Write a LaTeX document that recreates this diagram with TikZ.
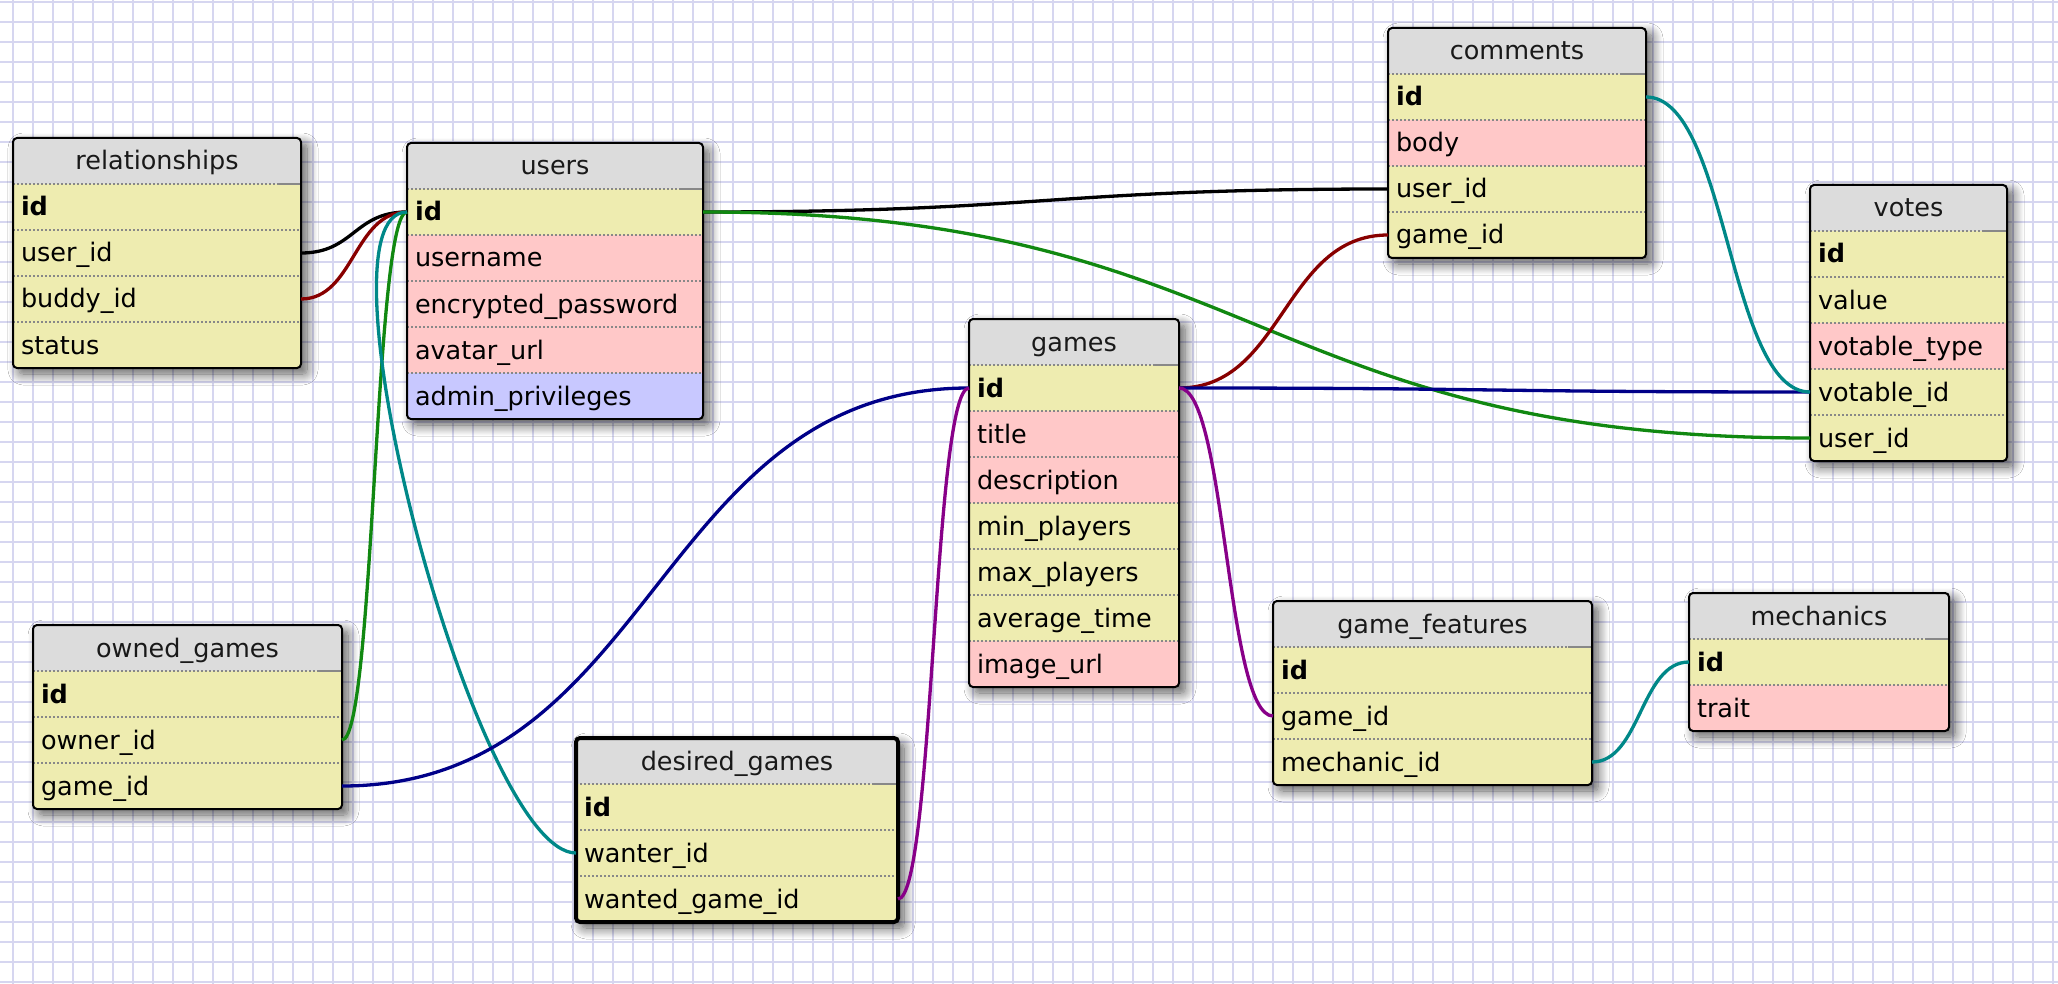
\documentclass[tikz,border=0pt]{standalone}
\usepackage{fontspec}
\setmainfont{DejaVu Sans}
\usetikzlibrary{calc,shadows.blur}

\definecolor{gridc}{RGB}{214,214,240}
\definecolor{headc}{RGB}{220,220,220}
\definecolor{yellowc}{RGB}{238,236,176}
\definecolor{pinkc}{RGB}{255,200,200}
\definecolor{bluec}{RGB}{200,200,255}
\definecolor{sepc}{RGB}{136,136,136}
\definecolor{fkblack}{RGB}{0,0,0}
\definecolor{fkred}{RGB}{136,0,0}
\definecolor{fkgreen}{RGB}{17,136,17}
\definecolor{fkteal}{RGB}{0,136,136}
\definecolor{fknavy}{RGB}{0,0,136}
\definecolor{fkpurple}{RGB}{136,0,136}

% one table: [frame options]{name}{top-left x,y}{width}{title}{row count}{key/colour/label,...}
\newcommand\dbtable[7][]{%
  \pgfmathsetmacro\tblh{46*(#6+1)}%
  \pgfmathsetmacro\tblw{#4-16}%
  \path[tablebody] (#3) rectangle ++(#4,\tblh);
  \begin{scope}
    \clip[rounded corners=4pt] (#3) rectangle ++(#4,\tblh);
    \node[headcell, text width=\tblw pt] (#2-head) at (#3) {#5};
    \foreach \key/\col/\txt [count=\i] in {#7}{
      \node[cell, fill=\col, text width=\tblw pt] (#2-\key) at ($(#3)+(0,46*\i)$) {\txt};
    }
  \end{scope}
  \foreach \i in {1,...,#6}{
    \draw[sepline] ($(#3)+(0,46*\i)$) -- ++(#4,0);
  }
  \draw[sepsolid] ($(#3)+(#4-24,46)$) -- ++(24,0);
  \draw[frame,#1] (#3) rectangle ++(#4,\tblh);
}

% foreign key curve with horizontal tangents, control points half way across
\newcommand\fklink[3]{%
  \coordinate (fkm) at ($(#2)!0.5!(#3)$);
  \draw[fk,#1] (#2) .. controls (fkm |- #2) and (fkm |- #3) .. (#3);
}

\begin{document}
\begin{tikzpicture}[x=1pt,y=-1pt,
  font=\fontsize{25.5}{30}\selectfont,
  gridline/.style={draw=gridc, line width=1.8pt},
  cell/.style={anchor=north west, minimum height=46pt, inner xsep=8pt, inner ysep=0pt,
    outer sep=0pt, text height=22pt, text depth=4pt, align=left, text=black},
  headcell/.style={cell, fill=headc, align=center, text=black!90},
  tablebody/.style={fill=headc, rounded corners=4pt,
    blur shadow={shadow xshift=6pt, shadow yshift=-6pt, shadow blur radius=11pt,
      shadow blur steps=12, shadow opacity=65}},
  frame/.style={draw=black, line width=2pt, rounded corners=4pt},
  sepline/.style={draw=sepc, line width=1.5pt, dash pattern=on 2pt off 2pt},
  sepsolid/.style={draw=sepc, line width=1.5pt},
  fk/.style={line width=3.3pt}]

\useasboundingbox (0,0) rectangle (2058,984);
\fill[white] (0,0) rectangle (2058,984);

% squared paper
\foreach \x in {13,33,...,2053} \draw[gridline] (\x,0) -- (\x,984);
\foreach \y in {2,22,...,982} \draw[gridline] (0,\y) -- (2058,\y);

% tables
\dbtable{rel}{13,138}{288}{relationships}{4}{%
  id/yellowc/\textbf{id}, user/yellowc/user\_id, buddy/yellowc/buddy\_id, status/yellowc/status}
\dbtable{users}{407,143}{296}{users}{5}{%
  id/yellowc/\textbf{id}, name/pinkc/username, pass/pinkc/encrypted\_password,
  avatar/pinkc/avatar\_url, admin/bluec/admin\_privileges}
\dbtable{cm}{1388,28}{258}{comments}{4}{%
  id/yellowc/\textbf{id}, body/pinkc/body, user/yellowc/user\_id, game/yellowc/game\_id}
\dbtable{vt}{1810,185}{197}{votes}{5}{%
  id/yellowc/\textbf{id}, value/yellowc/value, type/pinkc/votable\_type,
  votable/yellowc/votable\_id, user/yellowc/user\_id}
\dbtable{gm}{969,319}{210}{games}{7}{%
  id/yellowc/\textbf{id}, title/pinkc/title, desc/pinkc/description,
  min/yellowc/min\_players, max/yellowc/max\_players, avg/yellowc/average\_time,
  img/pinkc/image\_url}
\dbtable{og}{33,625}{309}{owned\_games}{3}{%
  id/yellowc/\textbf{id}, owner/yellowc/owner\_id, game/yellowc/game\_id}
\dbtable[line width=4pt]{dg}{576,738}{322}{desired\_games}{3}{%
  id/yellowc/\textbf{id}, wanter/yellowc/wanter\_id, wanted/yellowc/wanted\_game\_id}
\dbtable{gf}{1273,601}{319}{game\_features}{3}{%
  id/yellowc/\textbf{id}, game/yellowc/game\_id, mech/yellowc/mechanic\_id}
\dbtable{mc}{1689,593}{260}{mechanics}{2}{%
  id/yellowc/\textbf{id}, trait/pinkc/trait}

% relations
\fklink{fkblack}{rel-user.east}{users-id.west}
\fklink{fkred}{rel-buddy.east}{users-id.west}
\fklink{fkgreen}{og-owner.east}{users-id.west}
\draw[fk,fkteal] (users-id.west) .. controls ($(users-id.west)+(-100,0)$)
  and ($(dg-wanter.west)+(-100,0)$) .. (dg-wanter.west);
\fklink{fknavy}{og-game.east}{gm-id.west}
\fklink{fkpurple}{dg-wanted.east}{gm-id.west}
\fklink{fkblack}{users-id.east}{cm-user.west}
\fklink{fkgreen}{users-id.east}{vt-user.west}
\fklink{fkred}{gm-id.east}{cm-game.west}
\fklink{fknavy}{gm-id.east}{vt-votable.west}
\fklink{fkteal}{cm-id.east}{vt-votable.west}
\fklink{fkpurple}{gm-id.east}{gf-game.west}
\fklink{fkteal}{gf-mech.east}{mc-id.west}

\end{tikzpicture}
\end{document}
